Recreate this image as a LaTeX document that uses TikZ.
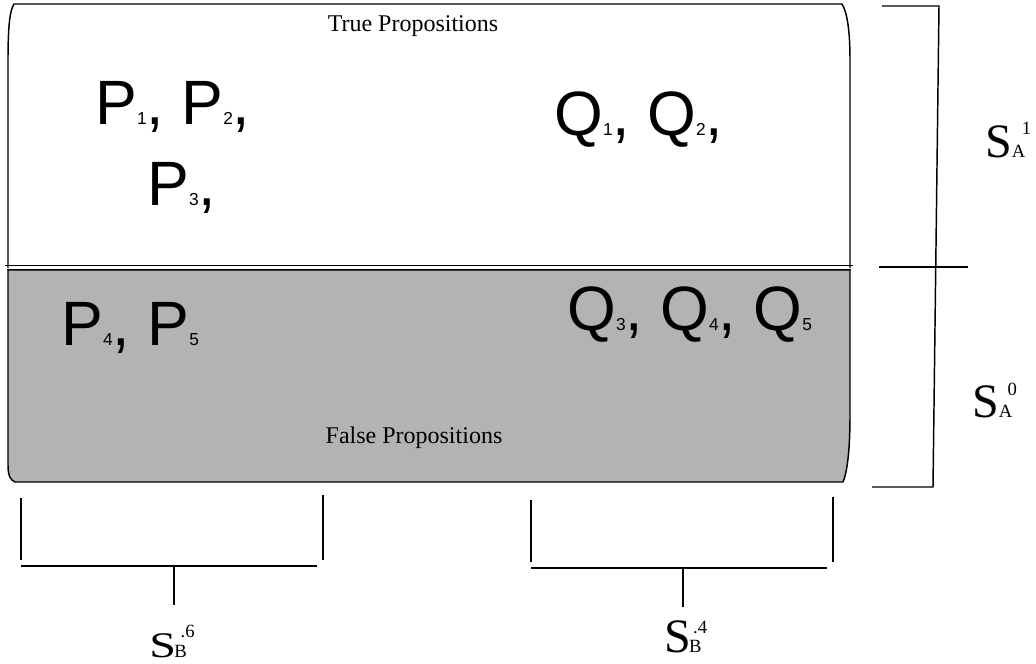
\documentclass[tikz,border=0pt]{standalone}
\usepackage{fontspec}
\newfontfamily\sansP{Liberation Sans}
\newfontfamily\serifS{Liberation Serif}
\definecolor{falsegray}{HTML}{B3B3B3}
\newcommand{\subdig}[1]{{\fontsize{13}{15}\selectfont #1}}
\newcommand{\idxsz}{\fontsize{14}{16}\selectfont}
\tikzset{
  outline/.style={line width=1.1pt, black, line join=round},
  bracketline/.style={line width=1.1pt, black},
  bigtxt/.style={inner sep=0pt, anchor=base west, font=\sansP\fontsize{47}{50}\selectfont},
  captxt/.style={inner sep=0pt, anchor=base, font=\serifS\fontsize{18}{20}\selectfont},
  stxt/.style={inner sep=0pt, anchor=base west, font=\serifS\fontsize{36}{38}\selectfont},
}
\begin{document}
\begin{tikzpicture}[x=0.75pt,y=-0.75pt]
\useasboundingbox (0,0) rectangle (1036,664);
% true region
\draw[outline, fill=white] (8,268) -- (8,60) .. controls (8,25) and (10,10) .. (14,4) -- (842,4) .. controls (847,12) and (850,30) .. (850,60) -- (850,268);
% false region
\draw[outline, fill=falsegray] (8,270) -- (8,465) .. controls (8,475) and (10,480) .. (15,482) -- (843,482) .. controls (848,470) and (850,445) .. (850,415) -- (850,270) -- cycle;
\draw[line width=0.6pt] (5,265.5) -- (853,265.5);
\draw[line width=1.2pt] (7,269.5) -- (851,269.5);
% texts in regions
\node[captxt] (truelbl) at (413,31) {True Propositions};
\node[captxt] (falselbl) at (414,443) {False Propositions};
\node[bigtxt] (p12) at (95,124) {P\subdig{1}, P\subdig{2},};
\node[bigtxt] (p3) at (147,205) {P\subdig{3},};
\node[bigtxt] (q12) at (554,135) {Q\subdig{1}, Q\subdig{2},};
\node[bigtxt] (p45) at (61,345) {P\subdig{4}, P\subdig{5}};
\node[bigtxt] (q345) at (567,330) {Q\subdig{3}, Q\subdig{4}, Q\subdig{5}};
% right bracket
\coordinate (ra) at (882,6);
\coordinate (rb) at (939,6);
\coordinate (rc) at (933,487);
\coordinate (rd) at (872,487);
\draw[bracketline] (ra) -- (rb) -- (rc) -- (rd);
\coordinate (rm1) at (879,267);
\coordinate (rm2) at (968,267);
\draw[bracketline] (rm1) -- (rm2);
% left bottom bracket
\coordinate (la1) at (21,498);
\coordinate (la2) at (21,560);
\coordinate (lb1) at (323,495);
\coordinate (lb2) at (323,560);
\coordinate (lh1) at (21,566);
\coordinate (lh2) at (317,566);
\coordinate (ls1) at (174,566);
\coordinate (ls2) at (174,605);
\draw[bracketline] (la1) -- (la2);
\draw[bracketline] (lb1) -- (lb2);
\draw[bracketline] (lh1) -- (lh2);
\draw[bracketline] (ls1) -- (ls2);
% right bottom bracket
\coordinate (ma1) at (531,500);
\coordinate (ma2) at (531,562);
\coordinate (mb1) at (833,497);
\coordinate (mb2) at (833,562);
\coordinate (mh1) at (531,568);
\coordinate (mh2) at (827,568);
\coordinate (ms1) at (683,568);
\coordinate (ms2) at (683,607);
\draw[bracketline] (ma1) -- (ma2);
\draw[bracketline] (mb1) -- (mb2);
\draw[bracketline] (mh1) -- (mh2);
\draw[bracketline] (ms1) -- (ms2);
% labels S_A
\node[stxt] (sa1) at (985,157) {S\kern0pt{\idxsz A\kern-2.6pt\raisebox{17pt}{1}}};
\node[stxt] (sa0) at (972,417) {S\kern0pt{\idxsz A\kern-3.6pt\raisebox{16.5pt}{0}}};
% labels S_B
\node[stxt] (sb6) at (149,657) {\scalebox{1}[0.75]{S}\kern-1.2pt{\idxsz B\kern-4.6pt\raisebox{15pt}{.6}}};
\node[stxt] (sb4) at (664,652) {S\kern-1.3pt{\idxsz B\kern-6.4pt\raisebox{14.25pt}{.4}}};
\end{tikzpicture}
\end{document}
